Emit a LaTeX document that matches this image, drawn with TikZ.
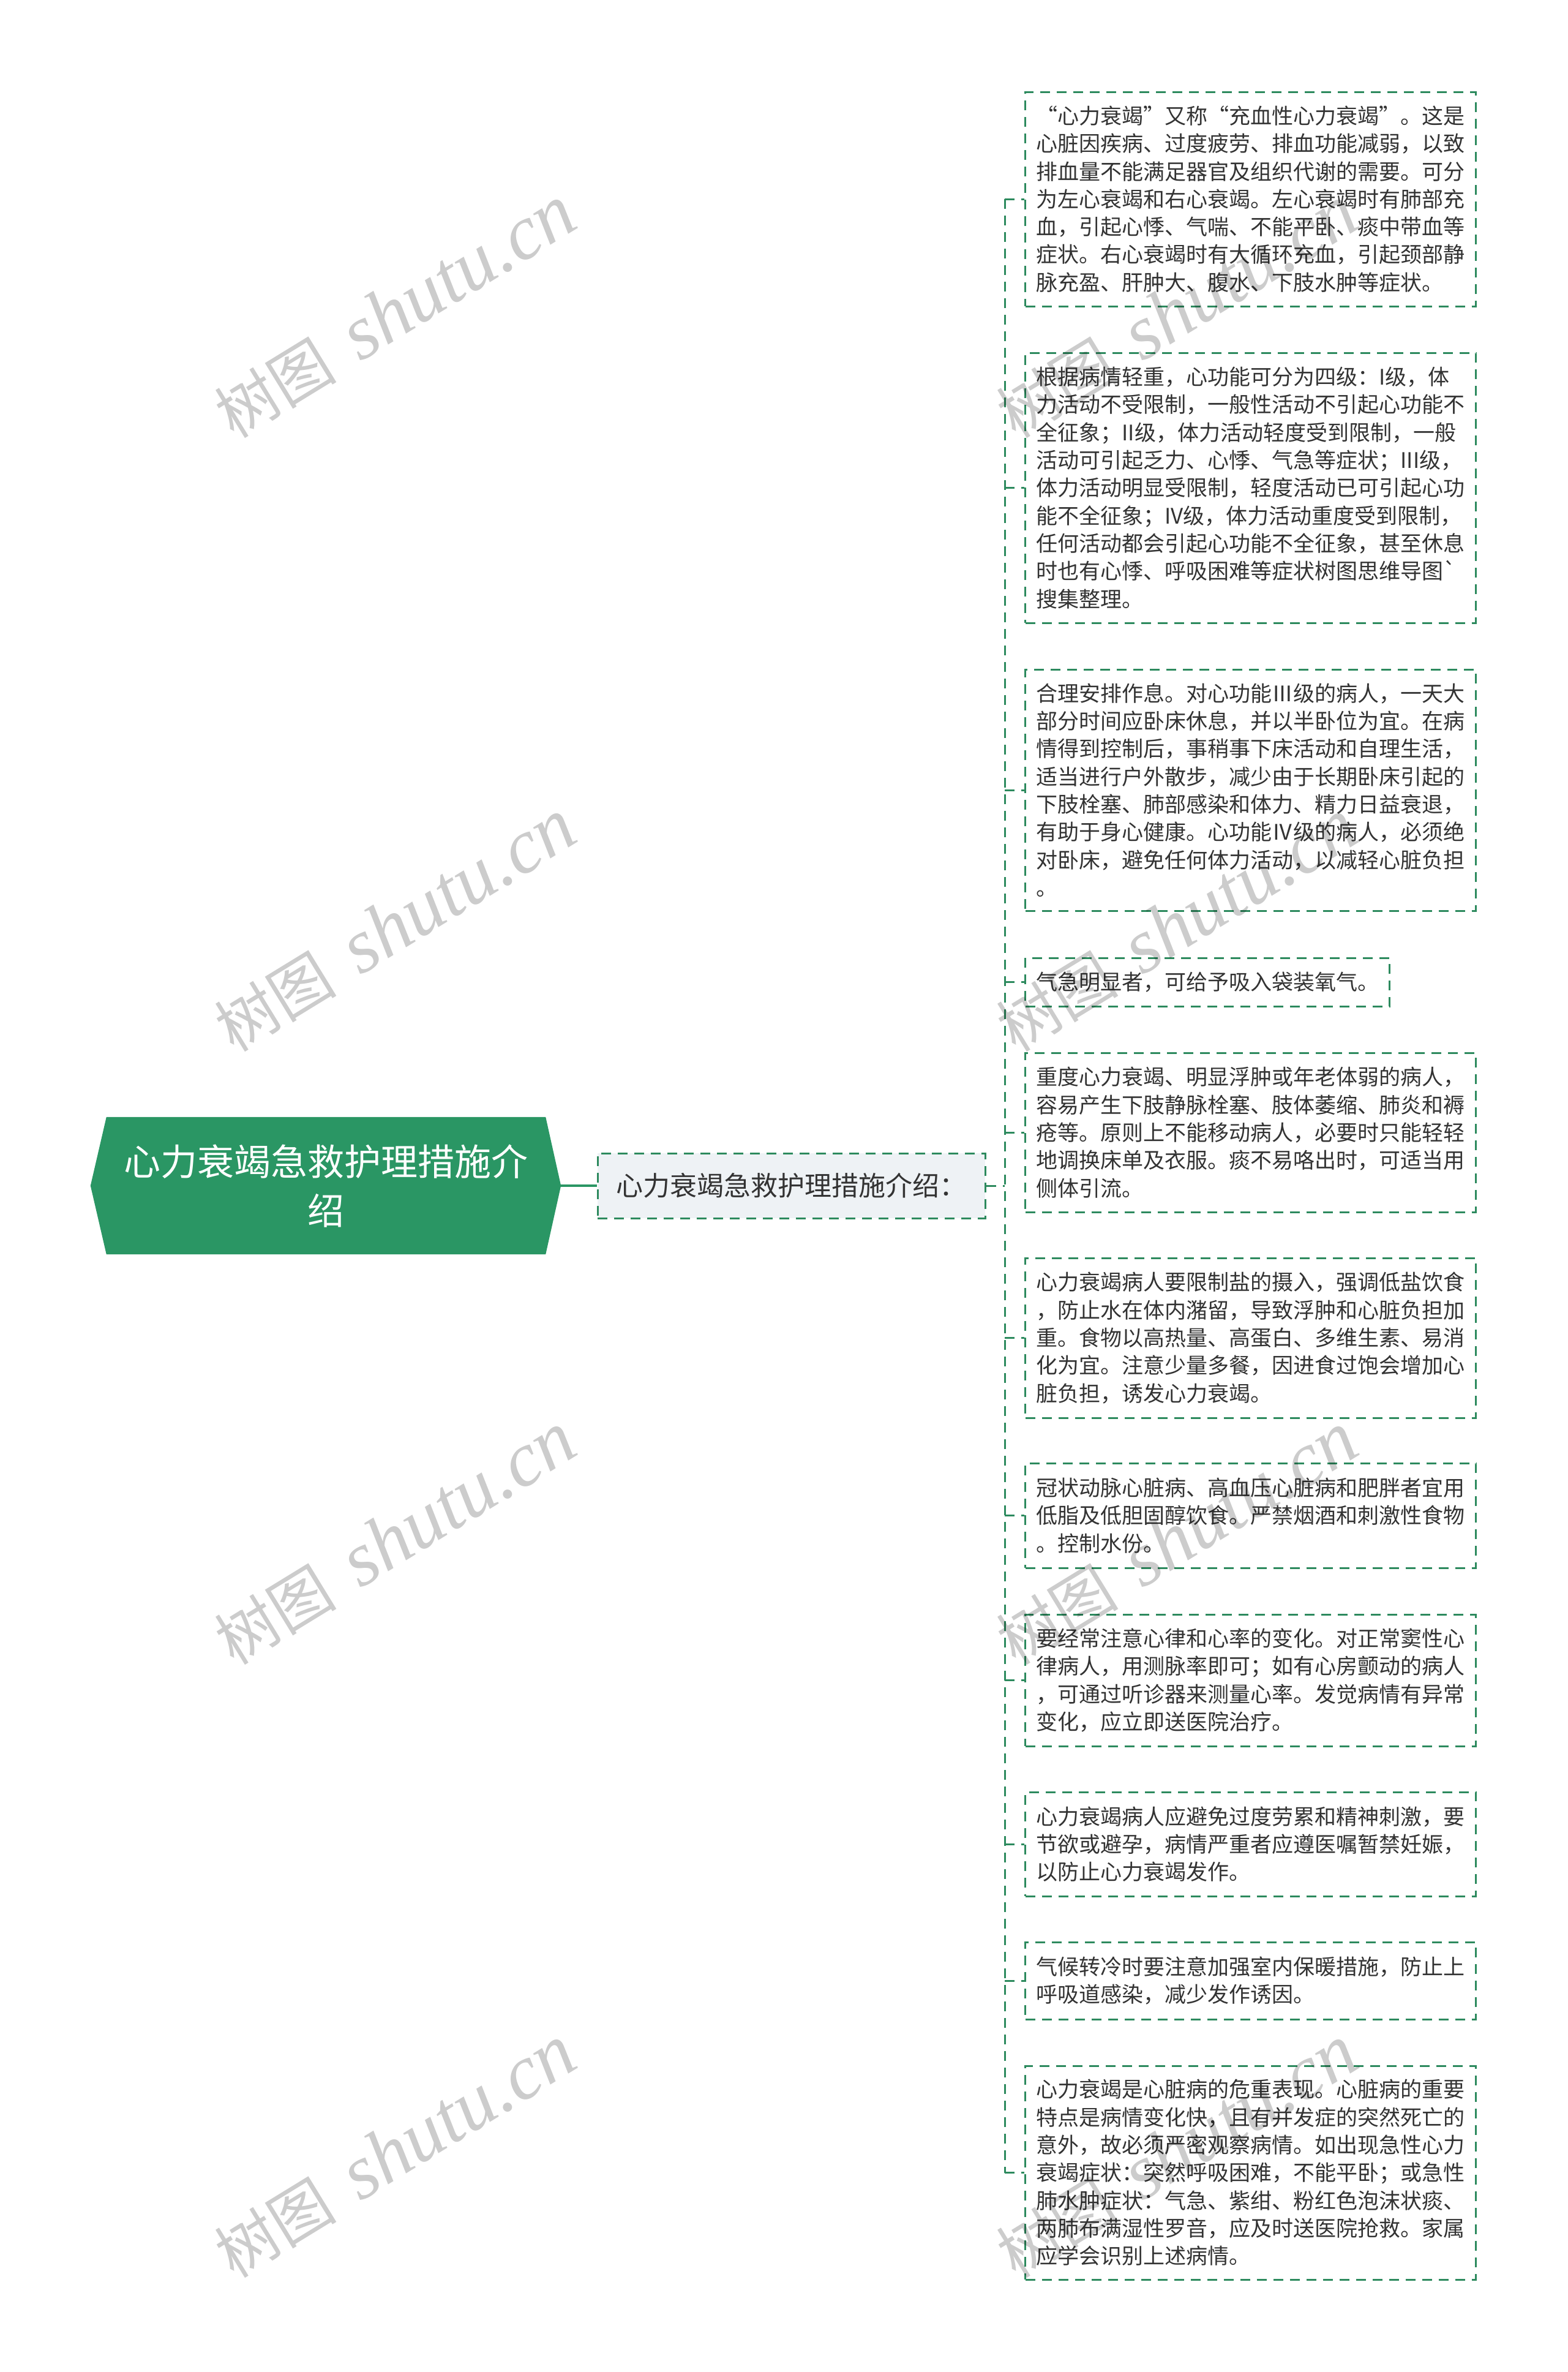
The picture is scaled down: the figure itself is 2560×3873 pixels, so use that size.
\documentclass[tikz,border=0pt]{standalone}
\usepackage{fontspec}
\newfontfamily\cjk{Noto Sans CJK SC}
\newfontfamily\wmlat{Liberation Serif}
\usetikzlibrary{backgrounds}
\definecolor{mgreen}{HTML}{2A9664}
\definecolor{lgreen}{HTML}{2D8A5E}
\definecolor{midfill}{HTML}{EEF2F5}
\definecolor{txt}{HTML}{333333}
\tikzset{
  conn/.style={draw=lgreen, line width=3pt, dash pattern=on 16pt off 11pt},
  rootline/.style={draw=mgreen, line width=4pt},
  leaf/.style={draw=lgreen, line width=3pt, dash pattern=on 16pt off 11pt, fill=white,
    text width=700pt, inner xsep=18pt, inner ysep=0pt, align=left, anchor=west,
    text=txt, font=\cjk\fontsize{35}{45.3}\selectfont},
  midbox/.style={draw=lgreen, line width=3pt, dash pattern=on 16pt off 11pt, fill=midfill,
    minimum width=633pt, minimum height=106pt, inner sep=0pt, text=txt,
    font=\cjk\fontsize{44}{50}\selectfont},
  rootbox/.style={minimum width=717pt, minimum height=224pt, text width=700pt, inner sep=0pt,
    align=center, text=white, font=\cjk\fontsize{60}{80}\selectfont},
  wm/.style={opacity=0.2, text=black, rotate=31.5, inner sep=0pt}
}
\newcommand{\wmtext}{{\cjk\fontsize{100}{100}\selectfont 树图}\hspace{42pt}{\wmlat\itshape\fontsize{126}{126}\selectfont shutu.cn}}
\begin{document}
\begin{tikzpicture}[x=1pt,y=-1pt]
\useasboundingbox (0,0) rectangle (2560,3873);

% root
\node[rootbox] (root) at (532.5,1936) {心力衰竭急救护理措施介\\绍};
\begin{scope}[on background layer]
\fill[mgreen] (root.north west) -- (root.north east) -- ([xshift=25pt]root.east)
  -- (root.south east) -- (root.south west) -- ([xshift=-26pt]root.west) -- cycle;
\end{scope}
\coordinate (roottip) at ([xshift=25pt]root.east);

% middle
\node[midbox] (mid) at (1292.5,1936) {心力衰竭急救护理措施介绍：};
\draw[rootline] (roottip) -- (mid.west);

% leaves
\node[leaf, minimum height=350pt] (b1) at (1673,325) {“心力衰竭”又称“充血性心力衰竭”。这是\\心脏因疾病、过度疲劳、排血功能减弱，以致\\排血量不能满足器官及组织代谢的需要。可分\\为左心衰竭和右心衰竭。左心衰竭时有肺部充\\血，引起心悸、气喘、不能平卧、痰中带血等\\症状。右心衰竭时有大循环充血，引起颈部静\\脉充盈、肝肿大、腹水、下肢水肿等症状。};
\node[leaf, minimum height=441pt] (b2) at (1673,796.5) {根据病情轻重，心功能可分为四级：I级，体\\力活动不受限制，一般性活动不引起心功能不\\全征象；II级，体力活动轻度受到限制，一般\\活动可引起乏力、心悸、气急等症状；III级，\\体力活动明显受限制，轻度活动已可引起心功\\能不全征象；IV级，体力活动重度受到限制，\\任何活动都会引起心功能不全征象，甚至休息\\时也有心悸、呼吸困难等症状树图思维导图\char96\\搜集整理。};
\node[leaf, minimum height=394pt] (b3) at (1673,1290) {合理安排作息。对心功能Ⅲ级的病人，一天大\\部分时间应卧床休息，并以半卧位为宜。在病\\情得到控制后，事稍事下床活动和自理生活，\\适当进行户外散步，减少由于长期卧床引起的\\下肢栓塞、肺部感染和体力、精力日益衰退，\\有助于身心健康。心功能Ⅳ级的病人，必须绝\\对卧床，避免任何体力活动，以减轻心脏负担\\。};
\node[leaf, minimum height=79pt, text width=559pt] (b4) at (1673,1603.5) {气急明显者，可给予吸入袋装氧气。};
\node[leaf, minimum height=260pt] (b5) at (1673,1849) {重度心力衰竭、明显浮肿或年老体弱的病人，\\容易产生下肢静脉栓塞、肢体萎缩、肺炎和褥\\疮等。原则上不能移动病人，必要时只能轻轻\\地调换床单及衣服。痰不易咯出时，可适当用\\侧体引流。};
\node[leaf, minimum height=261pt] (b6) at (1673,2184.5) {心力衰竭病人要限制盐的摄入，强调低盐饮食\\，防止水在体内潴留，导致浮肿和心脏负担加\\重。食物以高热量、高蛋白、多维生素、易消\\化为宜。注意少量多餐，因进食过饱会增加心\\脏负担，诱发心力衰竭。};
\node[leaf, minimum height=171pt] (b7) at (1673,2474.5) {冠状动脉心脏病、高血压心脏病和肥胖者宜用\\低脂及低胆固醇饮食。严禁烟酒和刺激性食物\\。控制水份。};
\node[leaf, minimum height=215pt] (b8) at (1673,2743.5) {要经常注意心律和心率的变化。对正常窦性心\\律病人，用测脉率即可；如有心房颤动的病人\\，可通过听诊器来测量心率。发觉病情有异常\\变化，应立即送医院治疗。};
\node[leaf, minimum height=170pt] (b9) at (1673,3011) {心力衰竭病人应避免过度劳累和精神刺激，要\\节欲或避孕，病情严重者应遵医嘱暂禁妊娠，\\以防止心力衰竭发作。};
\node[leaf, minimum height=126pt] (b10) at (1673,3234) {气候转冷时要注意加强室内保暖措施，防止上\\呼吸道感染，减少发作诱因。};
\node[leaf, minimum height=349pt] (b11) at (1673,3547.5) {心力衰竭是心脏病的危重表现。心脏病的重要\\特点是病情变化快，且有并发症的突然死亡的\\意外，故必须严密观察病情。如出现急性心力\\衰竭症状：突然呼吸困难，不能平卧；或急性\\肺水肿症状：气急、紫绀、粉红色泡沫状痰、\\两肺布满湿性罗音，应及时送医院抢救。家属\\应学会识别上述病情。};

% connectors
\coordinate (tr) at (1641,1936);
\draw[conn] (mid.east) -- (tr);
\draw[conn] (b1.west -| tr) -- (b11.west -| tr);
\foreach \b in {b1,b2,b3,b4,b5,b6,b7,b8,b9,b10,b11}
  \draw[conn] (\b.west -| tr) -- (\b.west);

% watermarks
\foreach \yy [count=\i] in {510,1512,2513,3514} {
  \node[wm] (wmL\i) at (645,\yy) {\wmtext};
  \node[wm] (wmR\i) at (1922,\yy) {\wmtext};
}
\end{tikzpicture}
\end{document}
